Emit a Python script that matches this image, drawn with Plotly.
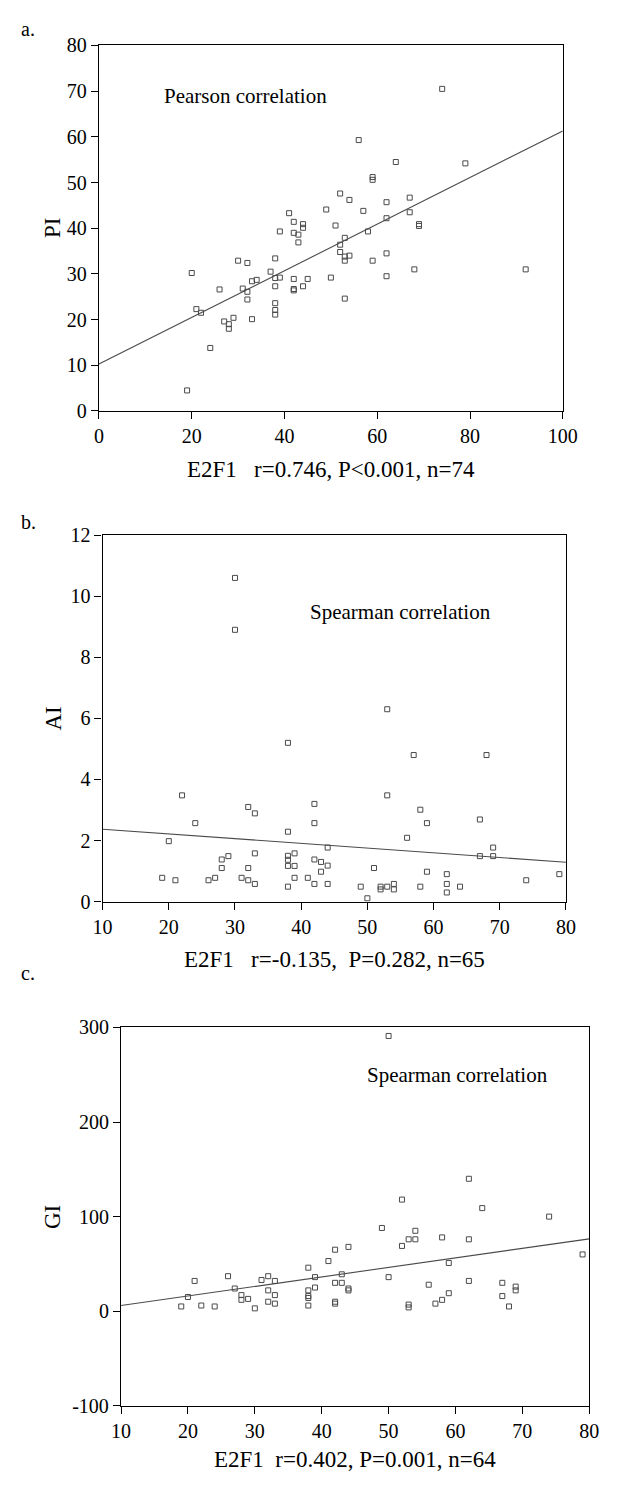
import plotly.graph_objects as go

# ---------------- data ----------------
# Panel a: E2F1 vs PI (Pearson)
a_e2f1 = [19, 20, 21, 22, 24, 26, 27, 28, 28, 29, 30, 31, 32, 32, 32, 33, 33, 34, 37, 38,
          38, 38, 38, 38, 38, 39, 39, 41, 42, 42, 42, 42, 42, 43, 43, 44, 44, 44, 45, 49,
          50, 51, 52, 52, 52, 53, 53, 53, 53, 54, 54, 56, 57, 58, 59, 59, 59, 62, 62, 62,
          62, 64, 67, 67, 68, 69, 69, 74, 79, 92]
a_pi = [4.5, 30.2, 22.3, 21.5, 13.8, 26.6, 19.6, 19.0, 18.0, 20.4, 32.9, 26.8, 32.4, 26.1, 24.4, 28.4, 20.1, 28.7, 30.5, 33.4,
        29.1, 27.3, 23.6, 22.1, 21.1, 29.2, 39.3, 43.3, 41.4, 39.0, 28.9, 26.7, 26.4, 38.6, 36.9, 40.9, 40.1, 27.3, 28.9, 44.1,
        29.2, 40.6, 47.6, 36.4, 34.8, 37.9, 33.8, 32.9, 24.6, 46.2, 34.0, 59.3, 43.8, 39.3, 51.2, 50.6, 32.9, 45.7, 42.2, 34.5,
        29.5, 54.5, 46.7, 43.5, 31.0, 40.9, 40.5, 70.5, 54.2, 31.0]
a_fit_x = [0, 100]
a_fit_y = [10.3, 61.3]

# Panel b: E2F1 vs AI (Spearman)
b_e2f1 = [30, 30, 38, 53, 57, 68, 22, 24, 20, 19, 21, 26, 27, 28, 28, 29, 31, 32, 33, 33,
          32, 32, 33, 38, 38, 38, 38, 39, 39, 38, 39, 41, 42, 42, 42, 43, 42, 43, 44, 44,
          44, 53, 58, 59, 56, 67, 69, 67, 69, 51, 59, 62, 62, 62, 64, 49, 52, 52, 53, 54,
          54, 58, 50, 74, 79]
b_ai = [10.6, 8.9, 5.2, 6.3, 4.8, 4.8, 3.48, 2.57, 1.98, 0.78, 0.70, 0.70, 0.78, 1.38, 1.10, 1.49, 0.78, 3.10, 2.89, 1.58,
        1.10, 0.70, 0.58, 2.29, 1.50, 1.37, 1.17, 1.58, 1.17, 0.49, 0.78, 0.78, 3.20, 2.57, 1.38, 1.30, 0.58, 0.98, 1.77, 1.18,
        0.58, 3.48, 3.01, 2.57, 2.09, 2.69, 1.77, 1.49, 1.49, 1.10, 0.98, 0.90, 0.58, 0.30, 0.49, 0.49, 0.49, 0.40, 0.49, 0.58,
        0.40, 0.49, 0.11, 0.70, 0.90]
b_fit_x = [10, 80]
b_fit_y = [2.37, 1.29]

# Panel c: E2F1 vs GI (Spearman)
c_e2f1 = [50, 62, 52, 64, 74, 49, 54, 53, 54, 52, 58, 62, 42, 44, 41, 59, 79, 38,
          19, 20, 21, 22, 24, 26, 27, 28, 28, 29, 30, 31, 32, 32, 32, 33, 33, 33, 38, 38,
          38, 38, 39, 39, 42, 42, 42, 43, 43, 44, 44, 50, 53, 53, 56, 57, 58, 59, 62, 67,
          67, 68, 69, 69]
c_gi = [291, 140, 118, 109, 100, 88, 85, 76, 76, 69, 78, 76, 65, 68, 53, 51, 60, 46,
        5, 15, 32, 6, 5, 37, 24, 12, 17, 13, 3, 33, 37, 22, 10, 32, 17, 8, 14, 16,
        6, 22, 36, 25, 30, 10, 8, 39, 30, 24, 22, 36, 7, 4, 28, 8, 12, 19, 32, 30,
        16, 5, 26, 22]
c_fit_x = [10, 80]
c_fit_y = [6, 76.5]

# ---------------- figure ----------------
W, H = 620, 1488


def px(x):
    return x / W


def py(y):
    return 1 - y / H


MARK = dict(symbol="square-open", size=5, color="#4a4a4a", line=dict(width=1, color="#4a4a4a"))
LINE = dict(color="#4a4a4a", width=1.1)
FONT = "Liberation Serif, Times New Roman, serif"

fig = go.Figure()
fig.add_trace(go.Scatter(x=a_e2f1, y=a_pi, mode="markers", marker=MARK, xaxis="x", yaxis="y"))
fig.add_trace(go.Scatter(x=a_fit_x, y=a_fit_y, mode="lines", line=LINE, xaxis="x", yaxis="y"))
fig.add_trace(go.Scatter(x=b_e2f1, y=b_ai, mode="markers", marker=MARK, xaxis="x2", yaxis="y2"))
fig.add_trace(go.Scatter(x=b_fit_x, y=b_fit_y, mode="lines", line=LINE, xaxis="x2", yaxis="y2"))
fig.add_trace(go.Scatter(x=c_e2f1, y=c_gi, mode="markers", marker=MARK, xaxis="x3", yaxis="y3"))
fig.add_trace(go.Scatter(x=c_fit_x, y=c_fit_y, mode="lines", line=LINE, xaxis="x3", yaxis="y3"))

axis_common = dict(showline=True, linecolor="black", linewidth=1.3, mirror=True,
                   ticks="outside", ticklen=7, tickwidth=1.3, tickcolor="black",
                   showgrid=False, zeroline=False,
                   tickfont=dict(family=FONT, size=20, color="black"))

fig.update_layout(
    width=W, height=H,
    margin=dict(l=0, r=0, t=0, b=0),
    paper_bgcolor="white", plot_bgcolor="white",
    showlegend=False,
    xaxis=dict(axis_common, domain=[px(92.7), px(576)], range=[0, 100],
               tickvals=[0, 20, 40, 60, 80, 100], anchor="y"),
    yaxis=dict(axis_common, domain=[py(406), py(35)], range=[0, 80],
               tickvals=[0, 10, 20, 30, 40, 50, 60, 70, 80], anchor="x"),
    xaxis2=dict(axis_common, domain=[px(96.5), px(579.3)], range=[10, 80],
                tickvals=[10, 20, 30, 40, 50, 60, 70, 80], anchor="y2"),
    yaxis2=dict(axis_common, domain=[py(904), py(532)], range=[0, 12],
                tickvals=[0, 2, 4, 6, 8, 10, 12], anchor="x2"),
    xaxis3=dict(axis_common, domain=[px(115.7), px(603.6)], range=[10, 80],
                tickvals=[10, 20, 30, 40, 50, 60, 70, 80], anchor="y3"),
    yaxis3=dict(axis_common, domain=[py(1415.7), py(1031.7)], range=[-100, 300],
                tickvals=[-100, 0, 100, 200, 300],
                ticktext=["-100", "0", "100", "200", "300"], anchor="x3"),
)


def note(text, x, y, size=21, angle=0, xanchor="center"):
    fig.add_annotation(text=text, x=px(x), y=py(y), xref="paper", yref="paper",
                       showarrow=False, xanchor=xanchor, yanchor="middle",
                       textangle=angle, font=dict(family=FONT, size=size, color="black"))


# panel letters
note("a.", 19, 18, size=20)
note("b.", 19, 519, size=20)
note("c.", 19, 976, size=20)

# correlation labels
note("Pearson correlation", 245, 86, size=21)
note("Spearman correlation", 407, 610, size=21)
note("Spearman correlation", 466, 1080, size=21)

# axis titles
note("E2F1&nbsp;&nbsp;&nbsp;r=0.746, P&lt;0.001, n=74", 334, 465, size=23)
note("E2F1&nbsp;&nbsp;&nbsp;r=-0.135,&nbsp;&nbsp;P=0.282, n=65", 338, 963, size=23)
note("E2F1&nbsp;&nbsp;r=0.402, P=0.001, n=64", 360, 1470, size=23)

note("PI", 45, 220, size=23, angle=-90)
note("AI", 45, 718, size=23, angle=-90)
note("GI", 45, 1224, size=23, angle=-90)

fig.write_html(
    "out.html",
    config={"displayModeBar": False},
    post_script="document.body.style.margin='0';document.body.style.overflow='hidden';",
)
